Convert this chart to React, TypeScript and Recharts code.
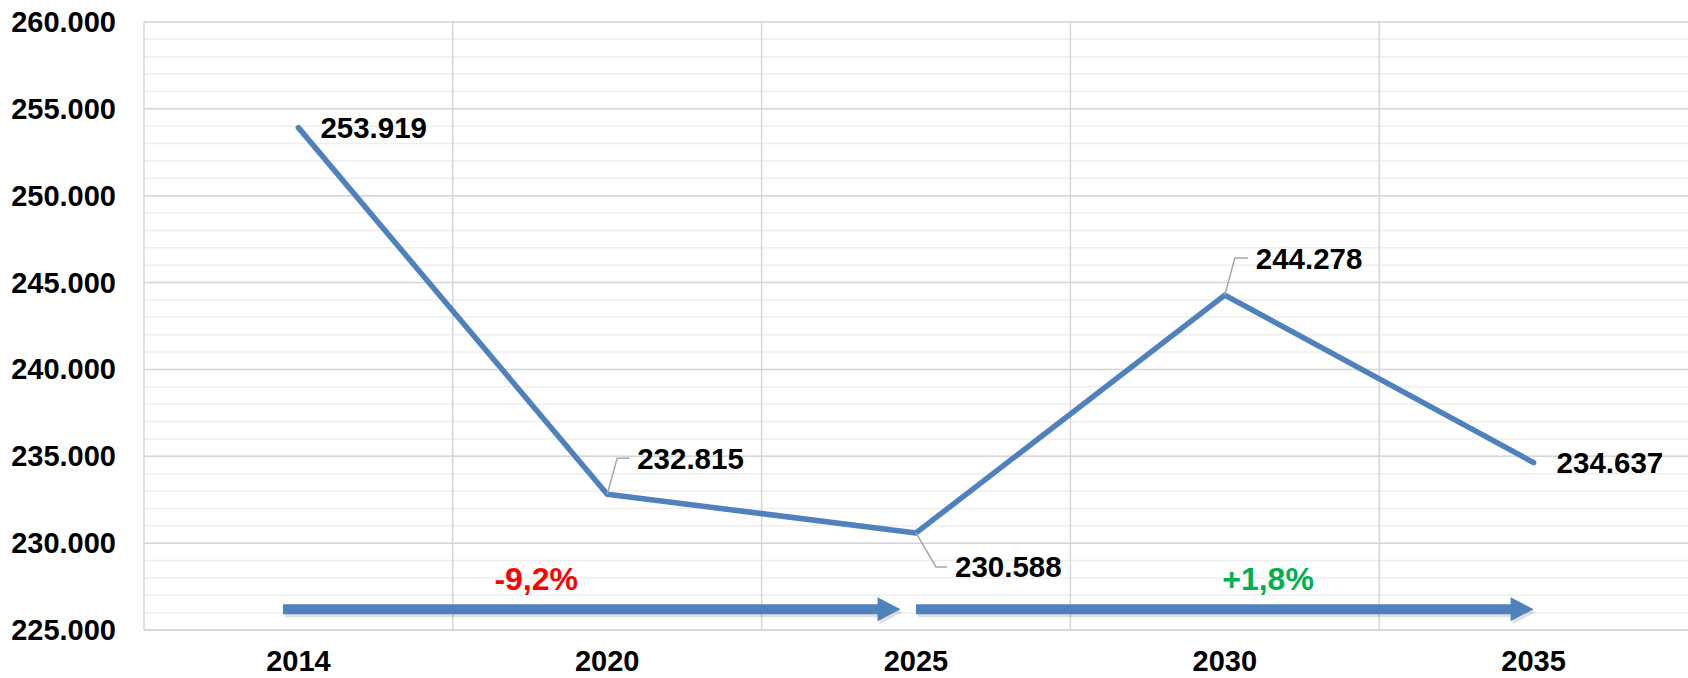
import {
  CartesianGrid,
  LabelList,
  Line,
  LineChart,
  ReferenceDot,
  ReferenceLine,
  XAxis,
  YAxis,
} from "recharts";

const years = ["2014", "2020", "2025", "2030", "2035"];
const values = [253919, 232815, 230588, 244278, 234637];
const yTicks = [225000, 230000, 235000, 240000, 245000, 250000, 255000, 260000];

// arrows: from/to in category units, level on the value axis
const trendArrows = [
  { from: -0.05, to: 1.95, level: 226200 },
  { from: 2.0, to: 4.0, level: 226200 },
];
const trendLabels = [
  { text: "-9,2%", at: 0.77, level: 227950, color: "#ff0000" },
  { text: "+1,8%", at: 3.14, level: 227950, color: "#00b050" },
];

const data = years.map((year, i) => ({ idx: i, year, value: values[i] }));

// per-label placement (pixel offsets from the point)
const labelPlacement = [
  { dx: 22, dy: 0, elbow: 0 },
  { dx: 30, dy: -36, elbow: 10 },
  { dx: 39, dy: 34, elbow: 20 },
  { dx: 31, dy: -37, elbow: 10 },
  { dx: 23, dy: 0, elbow: 0 },
];

const FONT = "'Liberation Sans', Arial, sans-serif";
const BLUE = "#4f81bd";

const minorLevels: number[] = [];
for (let v = 225000; v <= 260000; v += 1000) minorLevels.push(v);

const fmt = (v: number) => {
  const s = Math.round(v).toString();
  return s.replace(/\B(?=(\d{3})+(?!\d))/g, ".");
};

const YTick = (props: any) => {
  const { y, payload } = props;
  return (
    <text x={116} y={y + 10} textAnchor="end" fontFamily={FONT} fontWeight="bold" fontSize={29} fill="#000">
      {fmt(payload.value)}
    </text>
  );
};

const XTick = (props: any) => {
  const { x, payload } = props;
  return (
    <text x={x} y={671} textAnchor="middle" fontFamily={FONT} fontWeight="bold" fontSize={29} fill="#000">
      {years[payload.value]}
    </text>
  );
};

const PointLabel = (props: any) => {
  const { x, y, index, value } = props;
  const p = labelPlacement[index];
  const ty = y + p.dy;
  return (
    <g>
      {p.elbow > 0 && (
        <polyline
          points={`${x},${y} ${x + p.elbow},${ty} ${x + p.dx - 8},${ty}`}
          fill="none"
          stroke="#a6a6a6"
          strokeWidth={1.5}
        />
      )}
      <text x={x + p.dx} y={ty + 10.5} fontFamily={FONT} fontWeight="bold" fontSize={29.5} fill="#000">
        {fmt(value)}
      </text>
    </g>
  );
};

const ArrowShape = (props: any) => {
  const { x1, y1, x2 } = props;
  const half = 5;
  const headH = 12;
  const headL = 23;
  const pts = (dx: number, dy: number) =>
    [
      [x1, y1 - half],
      [x2 - headL, y1 - half],
      [x2 - headL, y1 - headH],
      [x2, y1],
      [x2 - headL, y1 + headH],
      [x2 - headL, y1 + half],
      [x1, y1 + half],
    ]
      .map(([a, b]) => `${a + dx},${b + dy}`)
      .join(" ");
  return (
    <g>
      <polygon points={pts(2, 3)} fill="#000" opacity={0.12} />
      <polygon points={pts(0, 0)} fill={BLUE} />
    </g>
  );
};

const pctShape = (text: string, color: string) => (props: any) => (
  <text
    x={props.cx}
    y={props.cy + 11}
    textAnchor="middle"
    fontFamily={FONT}
    fontWeight="bold"
    fontSize={32}
    fill={color}
  >
    {text}
  </text>
);

export default function App() {
  return (
    <div style={{ position: "absolute", left: 0, top: 0, width: 1688, height: 678, background: "#fff" }}>
      <LineChart width={1688} height={678} data={data} margin={{ top: 22, right: 0, bottom: 0, left: 0 }}>
        <CartesianGrid
          vertical={false}
          horizontalValues={minorLevels}
          stroke="#eeeeee"
          strokeWidth={1.5}
        />
        <CartesianGrid
          horizontalValues={yTicks}
          verticalValues={[0.5, 1.5, 2.5, 3.5]}
          stroke="#d6d6d6"
          strokeWidth={1.5}
        />
        <XAxis
          dataKey="idx"
          type="number"
          domain={[-0.5, 4.5]}
          ticks={[0, 1, 2, 3, 4]}
          height={48}
          axisLine={{ stroke: "#d6d6d6", strokeWidth: 1.5 }}
          tickLine={false}
          tick={<XTick />}
          interval={0}
        />
        <YAxis
          type="number"
          domain={[225000, 260000]}
          ticks={yTicks}
          width={144}
          axisLine={{ stroke: "#d6d6d6", strokeWidth: 1.5 }}
          tickLine={false}
          tick={<YTick />}
          interval={0}
        />
        {trendArrows.map((a, i) => (
          <ReferenceLine
            key={`arrow-${i}`}
            segment={[
              { x: a.from, y: a.level },
              { x: a.to, y: a.level },
            ]}
            shape={ArrowShape}
          />
        ))}
        {trendLabels.map((l, i) => (
          <ReferenceDot
            key={`pct-${i}`}
            x={l.at}
            y={l.level}
            r={0}
            shape={pctShape(l.text, l.color)}
          />
        ))}
        <Line
          type="linear"
          dataKey="value"
          stroke={BLUE}
          strokeWidth={5.5}
          strokeLinecap="round"
          strokeLinejoin="round"
          dot={false}
          activeDot={false}
          isAnimationActive={false}
        >
          <LabelList dataKey="value" content={<PointLabel />} />
        </Line>
      </LineChart>
    </div>
  );
}
